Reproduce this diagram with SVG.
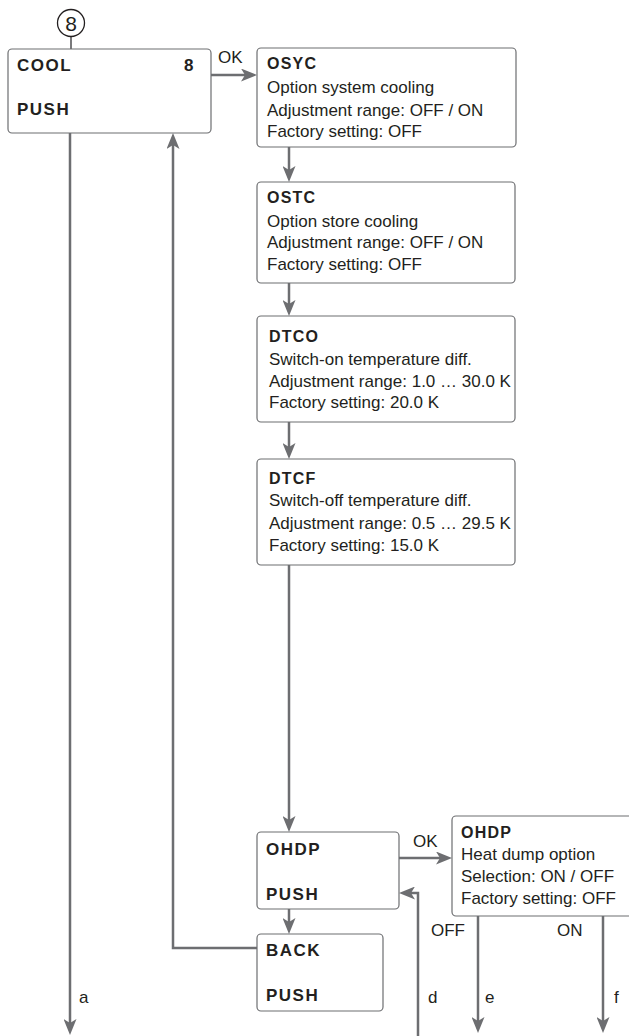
<svg xmlns="http://www.w3.org/2000/svg" width="629" height="1036" viewBox="0 0 629 1036">
<style>
.box{fill:#fff;stroke:#6d6e71;stroke-width:1.2}
.t{font-family:"Liberation Sans",Arial,sans-serif;font-size:17px;fill:#231f20}
.b{font-family:"Liberation Sans",Arial,sans-serif;font-size:16px;font-weight:bold;fill:#231f20;letter-spacing:1.2px}
.bb{font-family:"Liberation Sans",Arial,sans-serif;font-size:17px;font-weight:bold;fill:#231f20;letter-spacing:1.5px}
.l{font-family:"Liberation Sans",Arial,sans-serif;font-size:17px;fill:#231f20}
.c{fill:none;stroke:#6d6e71;stroke-width:2.5;marker-end:url(#ah)}
</style>
<defs>
<marker id="ah" markerUnits="userSpaceOnUse" viewBox="0 0 16 13" refX="10" refY="6.5" markerWidth="16" markerHeight="13" orient="auto">
<path d="M0,0 L16,6.5 L0,13 L4,6.5 Z" fill="#6d6e71"/>
</marker>
</defs>
<g id="connectors">
<line x1="71" y1="36.5" x2="71" y2="49" stroke="#4d4d4f" stroke-width="1.5"/>
<path class="c" d="M211,75 H251"/>
<path class="c" d="M289,147 V176"/>
<path class="c" d="M289,283 V310"/>
<path class="c" d="M289,422 V453"/>
<path class="c" d="M289,565 V826"/>
<path class="c" d="M399,858 H446"/>
<path class="c" d="M289,909 V928"/>
<path class="c" d="M257,948 H173 V139"/>
<path class="c" d="M70,133 V1029"/>
<path class="c" d="M418,1036 V893 H405"/>
<path class="c" d="M478,916 V1027"/>
<path class="c" d="M603,916 V1027"/>
<text class="l" x="218" y="63">OK</text>
<text class="l" x="413" y="847">OK</text>
<text class="l" x="431" y="936">OFF</text>
<text class="l" x="557" y="936">ON</text>
<text class="l" x="79" y="1003">a</text>
<text class="l" x="428" y="1003">d</text>
<text class="l" x="485" y="1003">e</text>
<text class="l" x="614" y="1003">f</text>
</g>
<g id="start8">
<circle cx="71" cy="23" r="13.5" fill="#fff" stroke="#231f20" stroke-width="1.3"/>
<text x="71" y="31" text-anchor="middle" font-family="Liberation Sans,Arial,sans-serif" font-size="21" fill="#231f20">8</text>
</g>
<g id="cool">
<rect class="box" x="8" y="49" width="203" height="84" rx="4"/>
<text class="bb" x="17" y="71">COOL</text>
<text class="bb" x="184" y="71">8</text>
<text class="bb" x="17" y="115">PUSH</text>
</g>
<g id="osyc">
<rect class="box" x="257" y="48" width="259" height="99" rx="4"/>
<text class="b" x="267" y="69">OSYC</text>
<text class="t" x="267" y="93">Option system cooling</text>
<text class="t" x="267" y="116">Adjustment range: OFF / ON</text>
<text class="t" x="267" y="137">Factory setting: OFF</text>
</g>
<g id="ostc">
<rect class="box" x="257" y="182" width="258" height="101" rx="4"/>
<text class="b" x="267" y="203">OSTC</text>
<text class="t" x="267" y="227">Option store cooling</text>
<text class="t" x="267" y="248">Adjustment range: OFF / ON</text>
<text class="t" x="267" y="270">Factory setting: OFF</text>
</g>
<g id="dtco">
<rect class="box" x="257" y="316" width="258" height="106" rx="4"/>
<text class="b" x="269" y="342">DTCO</text>
<text class="t" x="269" y="365">Switch-on temperature diff.</text>
<text class="t" x="269" y="387">Adjustment range: 1.0 … 30.0 K</text>
<text class="t" x="269" y="408">Factory setting: 20.0 K</text>
</g>
<g id="dtcf">
<rect class="box" x="257" y="459" width="258" height="106" rx="4"/>
<text class="b" x="269" y="484">DTCF</text>
<text class="t" x="269" y="506">Switch-off temperature diff.</text>
<text class="t" x="269" y="529">Adjustment range: 0.5 … 29.5 K</text>
<text class="t" x="269" y="551">Factory setting: 15.0 K</text>
</g>
<g id="ohdp">
<rect class="box" x="257" y="832" width="142" height="77" rx="4"/>
<text class="bb" x="266" y="855">OHDP</text>
<text class="bb" x="266" y="900">PUSH</text>
</g>
<g id="ohdp-detail">
<rect class="box" x="452" y="816" width="190" height="100" rx="4"/>
<text class="b" x="461" y="838">OHDP</text>
<text class="t" x="461" y="860">Heat dump option</text>
<text class="t" x="461" y="882">Selection: ON / OFF</text>
<text class="t" x="461" y="904">Factory setting: OFF</text>
</g>
<g id="back">
<rect class="box" x="257" y="934" width="126" height="77" rx="4"/>
<text class="bb" x="266" y="956">BACK</text>
<text class="bb" x="266" y="1001">PUSH</text>
</g>
</svg>
